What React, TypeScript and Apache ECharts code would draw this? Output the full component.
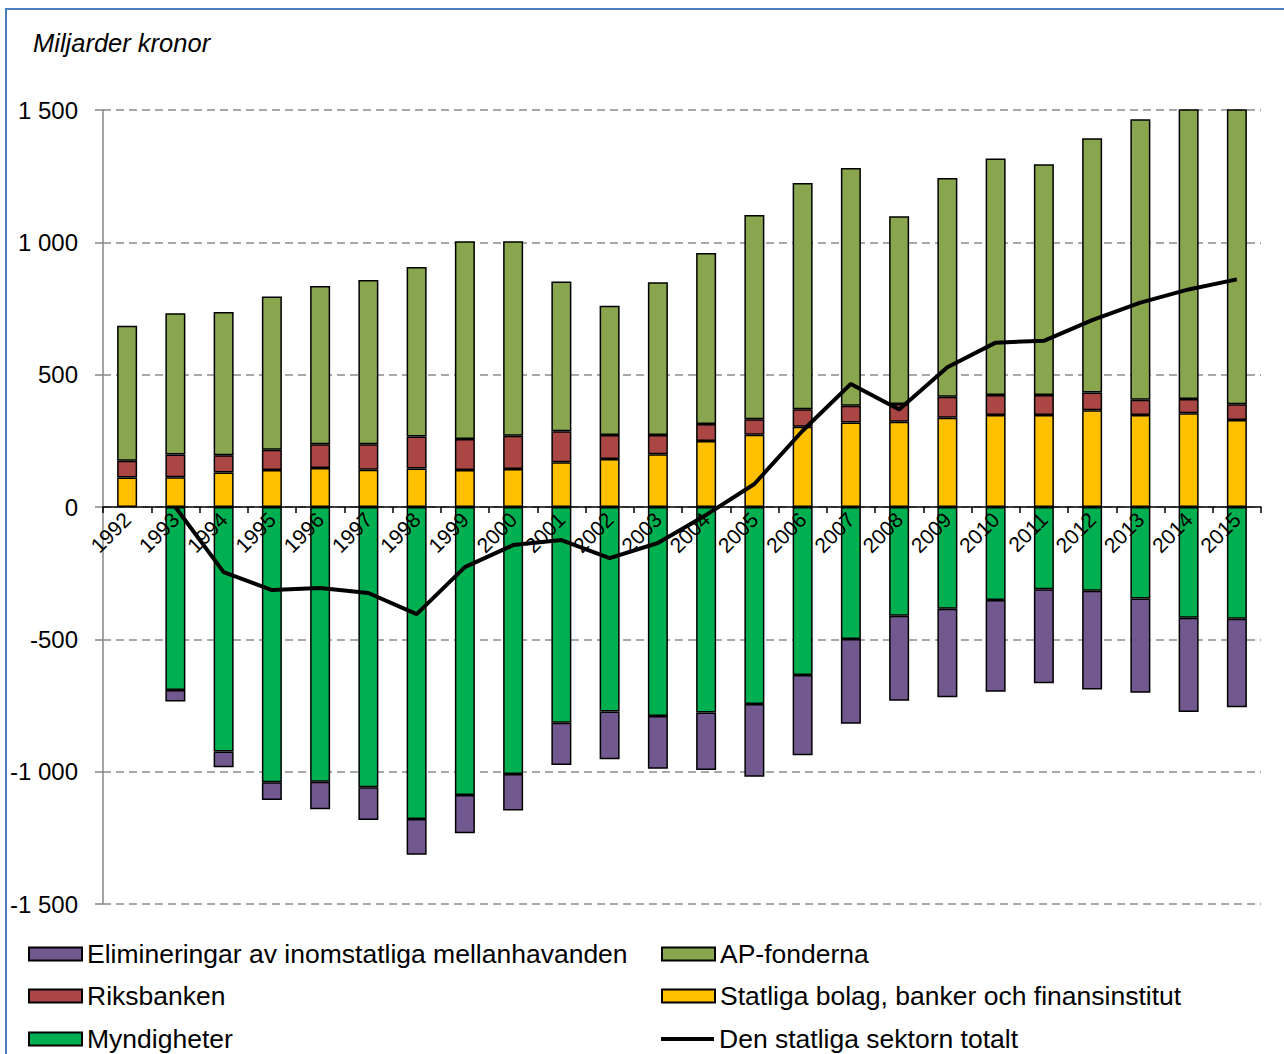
import React, { useEffect, useRef } from "react";
import * as echarts from "echarts";

const years = ["1992","1993","1994","1995","1996","1997","1998","1999","2000","2001","2002","2003","2004","2005","2006","2007","2008","2009","2010","2011","2012","2013","2014","2015"];
const statliga = [111,112,130,140,147,141,145,140,144,169,181,199,249,273,303,319,322,337,348,348,366,348,354,329];
const riksbanken = [64,86,66,76,90,96,121,117,125,117,91,73,65,59,66,64,67,80,75,75,67,57,54,59];
const apFonderna = [510,534,541,579,598,621,641,747,735,566,488,577,646,771,855,898,710,826,894,872,960,1060,1189,1229];
const myndigheter = [null,-691,-924,-1040,-1038,-1059,-1179,-1088,-1009,-815,-773,-790,-776,-744,-635,-499,-411,-384,-351,-311,-316,-346,-418,-422];
const eliminering = [null,-44,-59,-67,-104,-124,-135,-145,-138,-160,-180,-199,-218,-275,-303,-320,-321,-335,-347,-355,-374,-356,-357,-335];
const totalt = [null,0,-246,-314,-306,-325,-405,-227,-144,-125,-193,-136,-30,87,288,465,368,528,621,628,706,772,822,860];

const N_ELIM = "Elimineringar av inomstatliga mellanhavanden";
const N_AP = "AP-fonderna";
const N_RB = "Riksbanken";
const N_ST = "Statliga bolag, banker och finansinstitut";
const N_MY = "Myndigheter";
const N_TOT = "Den statliga sektorn totalt";

const FONT = "Arial, 'Liberation Sans', sans-serif";

function fmt(v: number): string {
  const s = Math.abs(v).toString();
  const withSp = s.length > 3 ? s.slice(0, s.length - 3) + " " + s.slice(-3) : s;
  return (v < 0 ? "-" : "") + withSp;
}

export default function App() {
  const ref = useRef<HTMLDivElement>(null);
  useEffect(() => {
    if (!ref.current) return;
    const chart = echarts.init(ref.current, undefined, { renderer: "svg" });
    const barBase = {
      type: "bar" as const,
      stack: "s",
      barWidth: 20,
      clip: true,
      itemStyle: { borderColor: "#000", borderWidth: 1.5 },
    };
    const LH = 30;
    const mkLegend = (item: any, left: number, centerY: number) => ({
      orient: "horizontal" as const,
      left,
      top: centerY - LH / 2,
      padding: 0,
      itemWidth: 53,
      itemHeight: 13,
      icon: "rect",
      textStyle: { fontFamily: FONT, fontSize: 26.5, color: "#000", lineHeight: LH },
      selectedMode: false,
      data: [item],
    });
    const rows = [954, 996, 1039];
    chart.setOption({
      animation: false,
      backgroundColor: "#fff",
      graphic: [
        {
          type: "rect",
          shape: { x: 6, y: 9, width: 1400, height: 1200 },
          style: { fill: "none", stroke: "#4A7EBB", lineWidth: 2 },
          silent: true,
        },
        {
          type: "text",
          left: 33,
          top: 30,
          style: { text: "Miljarder kronor", font: "italic 25.5px Arial, 'Liberation Sans', sans-serif", fill: "#000" },
        },
      ],
      grid: { left: 103, right: 23, top: 110, bottom: 150, containLabel: false },
      legend: [
        mkLegend(N_ELIM, 28, rows[0]),
        mkLegend(N_RB, 28, rows[1]),
        mkLegend(N_MY, 28, rows[2]),
        mkLegend(N_AP, 661, rows[0]),
        mkLegend(N_ST, 661, rows[1]),
        mkLegend({ name: N_TOT, icon: "path://M0,0 L53,0 L53,4 L0,4 Z", itemStyle: { color: "#000", borderWidth: 0 } }, 661, rows[2]),
      ],
      xAxis: {
        type: "category",
        data: years,
        offset: -397,
        axisLine: { onZero: false, lineStyle: { color: "#000", width: 1.5 } },
        axisTick: { show: true, length: 6, lineStyle: { color: "#000", width: 1.5 } },
        axisLabel: { rotate: 45, margin: 9, fontFamily: FONT, fontSize: 21, color: "#000", interval: 0 },
        z: 5,
      },
      yAxis: {
        type: "value",
        min: -1500,
        max: 1500,
        interval: 500,
        axisLine: { show: true, lineStyle: { color: "#868686", width: 1.5 } },
        axisTick: { show: true, length: 8, lineStyle: { color: "#868686", width: 1.5 } },
        axisLabel: { margin: 25, fontFamily: FONT, fontSize: 24, color: "#000", formatter: (v: number) => fmt(v) },
        splitLine: { show: true, lineStyle: { color: "#8C8C8C", width: 1.5, type: [8, 5] } },
      },
      series: [
        { ...barBase, name: N_ST, data: statliga, itemStyle: { ...barBase.itemStyle, color: "#FFC000" } },
        { ...barBase, name: N_RB, data: riksbanken, itemStyle: { ...barBase.itemStyle, color: "#AA4643" } },
        { ...barBase, name: N_AP, data: apFonderna, itemStyle: { ...barBase.itemStyle, color: "#89A54E" } },
        { ...barBase, name: N_MY, data: myndigheter, itemStyle: { ...barBase.itemStyle, color: "#00B050" } },
        { ...barBase, name: N_ELIM, data: eliminering, itemStyle: { ...barBase.itemStyle, color: "#71588F" } },
        {
          type: "line",
          name: N_TOT,
          data: totalt,
          symbol: "none",
          showSymbol: false,
          connectNulls: false,
          lineStyle: { color: "#000", width: 4 },
          itemStyle: { color: "#000" },
          z: 10,
        },
      ],
    });
    return () => chart.dispose();
  }, []);
  return (
    <div
      ref={ref}
      style={{ position: "absolute", left: 0, top: 0, width: 1284, height: 1054 }}
    />
  );
}
